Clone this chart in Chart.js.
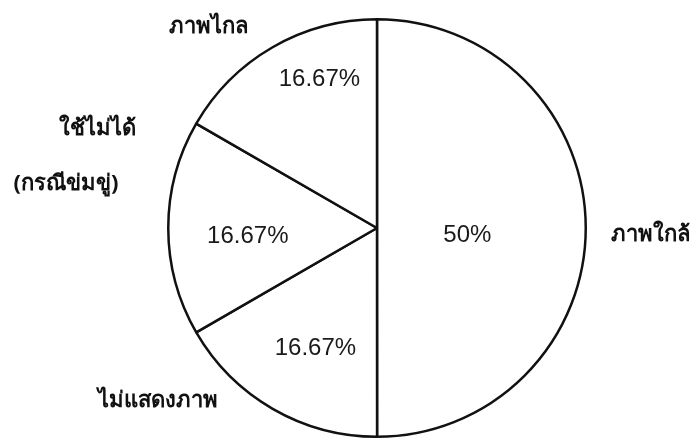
<!DOCTYPE html>
<html>
<head>
<meta charset="utf-8">
<script src="https://cdn.jsdelivr.net/npm/chart.js@4.4.1/dist/chart.umd.min.js"></script>
<style>
  html, body { margin: 0; padding: 0; background: #ffffff; }
  #wrap { width: 700px; height: 438px; position: relative; }
</style>
</head>
<body>
<div id="wrap"><canvas id="pie"></canvas></div>
<script>
// Share of each display mode (percent)
const categories = ['ภาพใกล้', 'ไม่แสดงภาพ', 'ใช้ไม่ได้ (กรณีข่มขู่)', 'ภาพไกล'];
const shares = [50, 16.67, 16.67, 16.67];

// Category name lines (multi-line where the name wraps)
const nameLines = [['ภาพใกล้'], ['ไม่แสดงภาพ'], ['ใช้ไม่ได้', '(กรณีข่มขู่)'], ['ภาพไกล']];

// Label placement, in units of the pie radius from its centre
const valueAnchor = [[0.433, 0.033], [-0.295, 0.576], [-0.619, 0.038], [-0.276, -0.714]];
const nameAnchor = [
  { lines: [[1.119, 0.033]], align: 'left' },
  { lines: [[-1.048, 0.829]], align: 'center' },
  { lines: [[-1.338, -0.476], [-1.49, -0.214]], align: 'center' },
  { lines: [[-0.805, -0.962]], align: 'center' }
];

const fmt = v => (+v.toFixed(2)) + '%';

const pieLabels = {
  id: 'pieLabels',
  afterDatasetsDraw(chart) {
    const ctx = chart.ctx;
    const meta = chart.getDatasetMeta(0);
    ctx.save();
    ctx.textBaseline = 'middle';
    meta.data.forEach((arc, i) => {
      const r = arc.outerRadius, cx = arc.x, cy = arc.y;
      // value inside the slice
      ctx.fillStyle = '#1a1a1a';
      ctx.font = '24px "Liberation Sans", Arial, sans-serif';
      ctx.textAlign = 'center';
      const va = valueAnchor[i];
      ctx.fillText(fmt(shares[i]), cx + va[0] * r, cy + va[1] * r);
      // category name outside
      ctx.fillStyle = '#111111';
      ctx.font = 'bold 22px "Noto Sans", "DejaVu Sans", sans-serif';
      const na = nameAnchor[i];
      ctx.textAlign = na.align;
      nameLines[i].forEach((line, k) => {
        const p = na.lines[k];
        ctx.fillText(line, cx + p[0] * r, cy + p[1] * r);
      });
    });
    ctx.restore();
  }
};

new Chart(document.getElementById('pie'), {
  type: 'pie',
  data: {
    labels: categories,
    datasets: [{
      data: shares,
      backgroundColor: '#ffffff',
      borderColor: '#111111',
      borderWidth: 2.5,
      borderAlign: 'center'
    }]
  },
  options: {
    responsive: true,
    maintainAspectRatio: false,
    animation: false,
    layout: { padding: { left: 54, right: 0, top: 18, bottom: 0 } },
    plugins: {
      legend: { display: false },
      tooltip: { enabled: false }
    }
  },
  plugins: [pieLabels]
});
</script>
</body>
</html>
